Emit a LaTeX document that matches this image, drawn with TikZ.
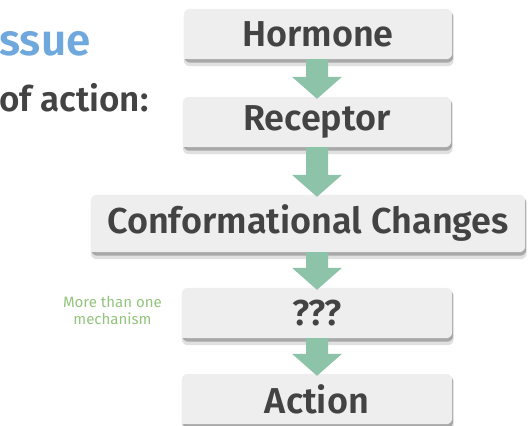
\documentclass[tikz,border=0pt]{standalone}
\usepackage{fontspec}
\setmainfont{Fira Sans}[BoldFont={* SemiBold}]
\usetikzlibrary{calc,backgrounds}
\definecolor{boxfill}{RGB}{238,238,238}
\definecolor{textdark}{RGB}{67,67,67}
\definecolor{titleblue}{RGB}{111,168,220}
\definecolor{flowgreen}{RGB}{141,195,168}
\definecolor{notegreen}{RGB}{147,196,125}
\newcommand\blockarrow[2]{%
 \path (axis |- #1.south) coordinate (s) (axis |- #2.north) coordinate (t);
 \fill[flow] ($(s)+(-11,0)$) -- ($(t)+(-11,-20)$) -- ($(t)+(-25,-20)$) -- ($(t)+(0,2)$)
  -- ($(t)+(25,-20)$) -- ($(t)+(11,-20)$) -- ($(s)+(11,0)$) -- cycle;}

\begin{document}
\begin{tikzpicture}[x=1pt,y=-1pt,
 stage/.style={font=\fontsize{36}{40}\selectfont\bfseries,text=textdark,
               minimum height=50pt,inner sep=0pt},
 flow/.style={fill=flowgreen},
 head/.style={font=\fontsize{44}{50}\selectfont\bfseries,inner sep=0pt},
 note/.style={font=\fontsize{15}{17}\selectfont,text=notegreen,align=center,inner sep=0pt}]
\useasboundingbox (0,0) rectangle (528,426);
\coordinate (axis) at (317,0);

\node[head,text=titleblue,anchor=base west] (tissue) at (-1,55) {ssue};
\node[head,text=textdark,font=\fontsize{35}{40}\selectfont\bfseries,anchor=base west] (moa) at (-1,111) {of action:};

\node[stage,minimum width=268pt] (hormone) at (318,34) {Hormone};
\node[stage,minimum width=268pt] (receptor) at (317,122) {Receptor};
\node[stage,minimum width=434pt,minimum height=57pt] (conform) at (308,223.5) {Conformational Changes};
\node[stage,minimum width=270pt] (unknown) at (317,313) {???};
\node[stage,minimum width=270pt] (action) at (317,399) {Action};
\node[note,anchor=east] (note) at (162,310) {More than one\\mechanism};

\begin{scope}[on background layer]
\foreach \b in {hormone,receptor,conform,unknown,action}{
 \fill[black,opacity=.12,rounded corners=6pt] ($(\b.south west)+(0pt,-7pt)$) rectangle ($(\b.north east)+(1.5pt,-2pt)$);
 \fill[black,opacity=.25,rounded corners=6pt] ($(\b.south west)+(0.5pt,-3.5pt)$) rectangle ($(\b.north east)+(1pt,-2pt)$);
 \fill[boxfill,rounded corners=6pt] (\b.south west) rectangle (\b.north east);
 \fill[boxfill] (\b.south west) rectangle ++(8pt,8pt);
}
\end{scope}

\blockarrow{hormone}{receptor}
\blockarrow{receptor}{conform}
\blockarrow{conform}{unknown}
\blockarrow{unknown}{action}
\end{tikzpicture}
\end{document}
